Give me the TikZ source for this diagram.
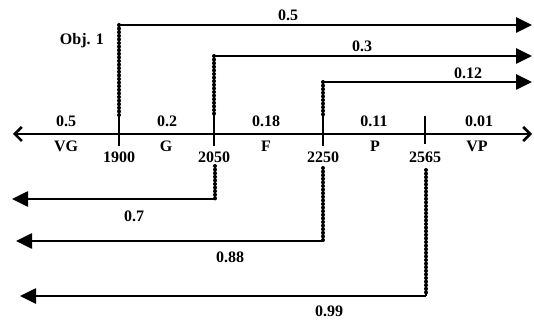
\documentclass[tikz,border=0pt]{standalone}
\usepackage{fontspec}
\setmainfont{Liberation Serif}
\usetikzlibrary{arrows.meta}
\begin{document}
\begin{tikzpicture}[x=1pt,y=-1pt,
  lbl/.style={font=\fontsize{16}{18}\selectfont\bfseries, inner sep=0pt},
  solidline/.style={line width=2.6pt},
  beadcore/.style={line width=1.4pt},
  beads/.style={line width=4pt, line cap=round, dash pattern=on 0pt off 3.6pt},
  bigarrow/.style={line width=2.6pt, -{Triangle[length=16pt,width=15pt]}},
  axisarrow/.style={line width=2.6pt, {Straight Barb[length=7pt,width=14pt,line width=2.6pt]}-{Straight Barb[length=7pt,width=14pt,line width=2.6pt]}}]
\useasboundingbox (0,0) rectangle (534,320);
% axis
\coordinate (axL) at (13,134);
\coordinate (axR) at (532,134);
\draw[axisarrow] (axL) -- (axR);
% key points
\coordinate (a1) at (119,25);   \coordinate (a1e) at (532,25);
\coordinate (a1m) at (119,117); \coordinate (a1b) at (119,146);
\coordinate (a2) at (214,56);   \coordinate (a2e) at (532,56);
\coordinate (a2m) at (214,117); \coordinate (a2b) at (214,146);
\coordinate (a3) at (323,82);   \coordinate (a3e) at (532,82);
\coordinate (a3m) at (323,115); \coordinate (a3b) at (323,146);
\coordinate (a4m) at (425,116); \coordinate (a4b) at (425,144);
\coordinate (b2t) at (215,166); \coordinate (b2) at (215,199); \coordinate (b2e) at (12,199);
\coordinate (b3t) at (323,168); \coordinate (b3) at (323,241); \coordinate (b3e) at (16,241);
\coordinate (b4t) at (426,170); \coordinate (b4) at (426,296); \coordinate (b4e) at (20,296);
% top arrows
\draw[bigarrow] (a1) -- (a1e);
\draw[bigarrow] (a2) -- (a2e);
\draw[bigarrow] (a3) -- (a3e);
% bottom arrows
\draw[bigarrow] (b2) -- (b2e);
\draw[bigarrow] (b3) -- (b3e);
\draw[bigarrow] (b4) -- (b4e);
% dotted verticals
\foreach \p/\q in {a1/a1m,a2/a2m,a3/a3m,b2t/b2,b3t/b3,b4t/b4}{
  \draw[beadcore] (\p) -- (\q);
  \draw[beads] (\p) -- (\q);
}
% ticks
\draw[solidline] (a1m) -- (a1b);
\draw[solidline] (a2m) -- (a2b);
\draw[solidline] (a3m) -- (a3b);
\draw[solidline] (a4m) -- (a4b);
% labels
\node[lbl] (l05t) at (288,15) {0.5};
\node[lbl] (l03t) at (362,46) {0.3};
\node[lbl] (l012t) at (468,73) {0.12};
\node[lbl] (obj) at (82,41) {Obj. 1};
\node[lbl] (v1) at (66,121) {0.5};
\node[lbl] (v2) at (167,121) {0.2};
\node[lbl] (v3) at (266,121) {0.18};
\node[lbl] (v4) at (374,121) {0.11};
\node[lbl] (v5) at (479,121) {0.01};
\node[lbl] (c1) at (66,146) {VG};
\node[lbl] (c2) at (166,146) {G};
\node[lbl] (c3) at (266,146) {F};
\node[lbl] (c4) at (375,146) {P};
\node[lbl] (c5) at (477,146) {VP};
\node[lbl] (y1) at (119,157) {1900};
\node[lbl] (y2) at (214,157) {2050};
\node[lbl] (y3) at (323,157) {2250};
\node[lbl] (y4) at (425,157) {2565};
\node[lbl] (l07) at (134,216) {0.7};
\node[lbl] (l088) at (230,257) {0.88};
\node[lbl] (l099) at (329,311) {0.99};
\end{tikzpicture}
\end{document}
